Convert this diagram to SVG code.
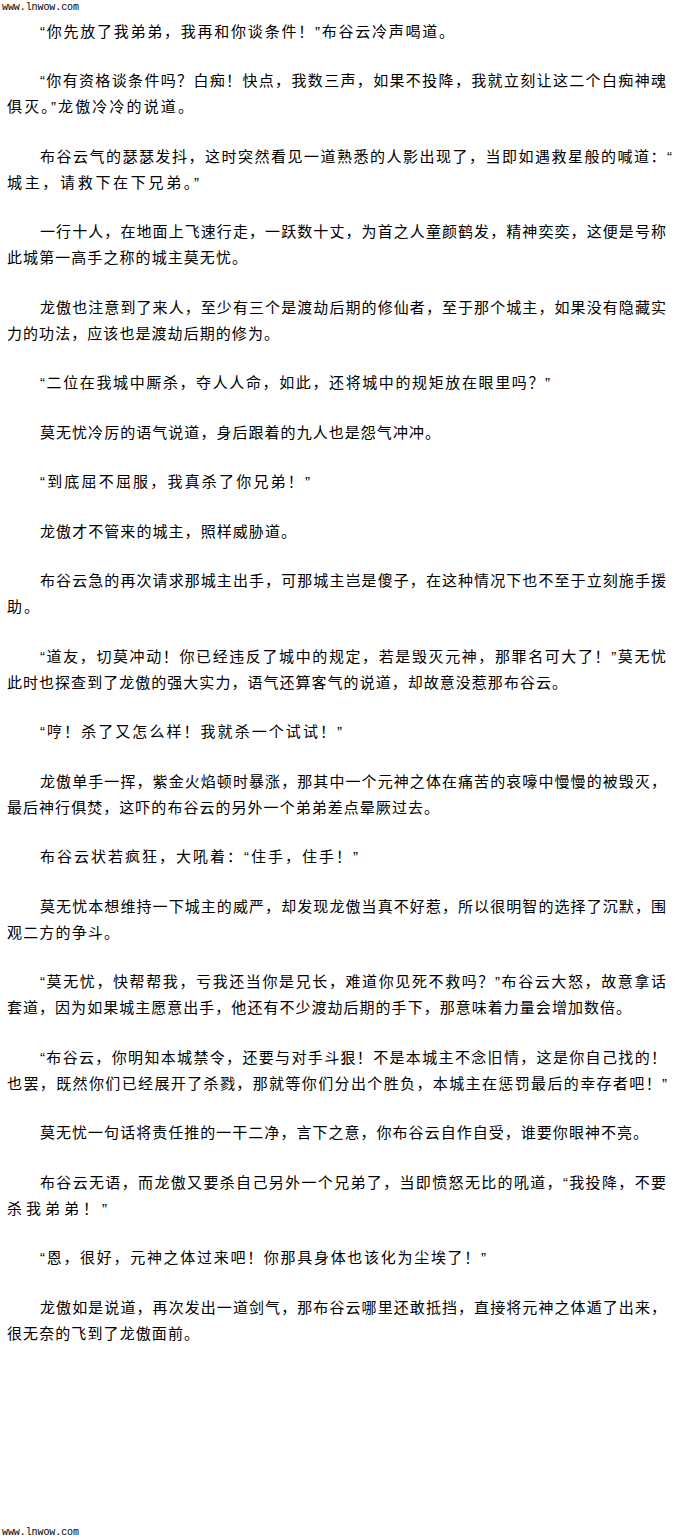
<svg xmlns="http://www.w3.org/2000/svg" width="680" height="1539" viewBox="0 0 680 1539">
<style>
.t{font-family:"Liberation Sans","Noto Sans CJK SC",sans-serif;font-size:15px;fill:#000;lengthAdjust:spacing}
.w{font-family:"Liberation Mono",monospace;font-size:10px;fill:#000}
</style>
<rect width="680" height="1539" fill="#fff"/>
<text id="wm-top" class="w" x="2" y="10" textLength="77">www.lnwow.com</text>
<g id="p1"><text class="t" x="40" y="37" textLength="414">“你先放了我弟弟，我再和你谈条件！”布谷云冷声喝道。</text></g>
<g id="p2"><text class="t" x="40" y="86" textLength="626">“你有资格谈条件吗？白痴！快点，我数三声，如果不投降，我就立刻让这二个白痴神魂</text>
<text class="t" x="7" y="112" textLength="186">俱灭。”龙傲冷冷的说道。</text></g>
<g id="p3"><text class="t" x="40" y="162" textLength="632">布谷云气的瑟瑟发抖，这时突然看见一道熟悉的人影出现了，当即如遇救星般的喊道：“</text>
<text class="t" x="7" y="188" textLength="192">城主，请救下在下兄弟。”</text></g>
<g id="p4"><text class="t" x="40" y="237" textLength="626">一行十人，在地面上飞速行走，一跃数十丈，为首之人童颜鹤发，精神奕奕，这便是号称</text>
<text class="t" x="7" y="263" textLength="240">此城第一高手之称的城主莫无忧。</text></g>
<g id="p5"><text class="t" x="40" y="313" textLength="626">龙傲也注意到了来人，至少有三个是渡劫后期的修仙者，至于那个城主，如果没有隐藏实</text>
<text class="t" x="7" y="339" textLength="272">力的功法，应该也是渡劫后期的修为。</text></g>
<g id="p6"><text class="t" x="40" y="388" textLength="510">“二位在我城中厮杀，夺人人命，如此，还将城中的规矩放在眼里吗？”</text></g>
<g id="p7"><text class="t" x="40" y="438" textLength="400">莫无忧冷厉的语气说道，身后跟着的九人也是怨气冲冲。</text></g>
<g id="p8"><text class="t" x="40" y="487" textLength="270">“到底屈不屈服，我真杀了你兄弟！”</text></g>
<g id="p9"><text class="t" x="40" y="537" textLength="256">龙傲才不管来的城主，照样威胁道。</text></g>
<g id="p10"><text class="t" x="40" y="586" textLength="626">布谷云急的再次请求那城主出手，可那城主岂是傻子，在这种情况下也不至于立刻施手援</text>
<text class="t" x="7" y="612" textLength="32">助。</text></g>
<g id="p11"><text class="t" x="40" y="662" textLength="626">“道友，切莫冲动！你已经违反了城中的规定，若是毁灭元神，那罪名可大了！”莫无忧</text>
<text class="t" x="7" y="688" textLength="560">此时也探查到了龙傲的强大实力，语气还算客气的说道，却故意没惹那布谷云。</text></g>
<g id="p12"><text class="t" x="40" y="737" textLength="302">“哼！杀了又怎么样！我就杀一个试试！”</text></g>
<g id="p13"><text class="t" x="40" y="787" textLength="626">龙傲单手一挥，紫金火焰顿时暴涨，那其中一个元神之体在痛苦的哀嚎中慢慢的被毁灭，</text>
<text class="t" x="7" y="813" textLength="432">最后神行俱焚，这吓的布谷云的另外一个弟弟差点晕厥过去。</text></g>
<g id="p14"><text class="t" x="40" y="862" textLength="318">布谷云状若疯狂，大吼着：“住手，住手！”</text></g>
<g id="p15"><text class="t" x="40" y="912" textLength="626">莫无忧本想维持一下城主的威严，却发现龙傲当真不好惹，所以很明智的选择了沉默，围</text>
<text class="t" x="7" y="938" textLength="112">观二方的争斗。</text></g>
<g id="p16"><text class="t" x="40" y="987" textLength="626">“莫无忧，快帮帮我，亏我还当你是兄长，难道你见死不救吗？”布谷云大怒，故意拿话</text>
<text class="t" x="7" y="1013" textLength="624">套道，因为如果城主愿意出手，他还有不少渡劫后期的手下，那意味着力量会增加数倍。</text></g>
<g id="p17"><text class="t" x="40" y="1063" textLength="626">“布谷云，你明知本城禁令，还要与对手斗狠！不是本城主不念旧情，这是你自己找的！</text>
<text class="t" x="7" y="1089" textLength="660">也罢，既然你们已经展开了杀戮，那就等你们分出个胜负，本城主在惩罚最后的幸存者吧！”</text></g>
<g id="p18"><text class="t" x="40" y="1138" textLength="608">莫无忧一句话将责任推的一干二净，言下之意，你布谷云自作自受，谁要你眼神不亮。</text></g>
<g id="p19"><text class="t" x="40" y="1188" textLength="626">布谷云无语，而龙傲又要杀自己另外一个兄弟了，当即愤怒无比的吼道，“我投降，不要</text>
<text class="t" x="7" y="1214" textLength="100">杀我弟弟！”</text></g>
<g id="p20"><text class="t" x="40" y="1263" textLength="446">“恩，很好，元神之体过来吧！你那具身体也该化为尘埃了！”</text></g>
<g id="p21"><text class="t" x="40" y="1313" textLength="626">龙傲如是说道，再次发出一道剑气，那布谷云哪里还敢抵挡，直接将元神之体遁了出来，</text>
<text class="t" x="7" y="1339" textLength="192">很无奈的飞到了龙傲面前。</text></g>
<text id="wm-bottom" class="w" x="2" y="1535" textLength="77">www.lnwow.com</text>
</svg>
